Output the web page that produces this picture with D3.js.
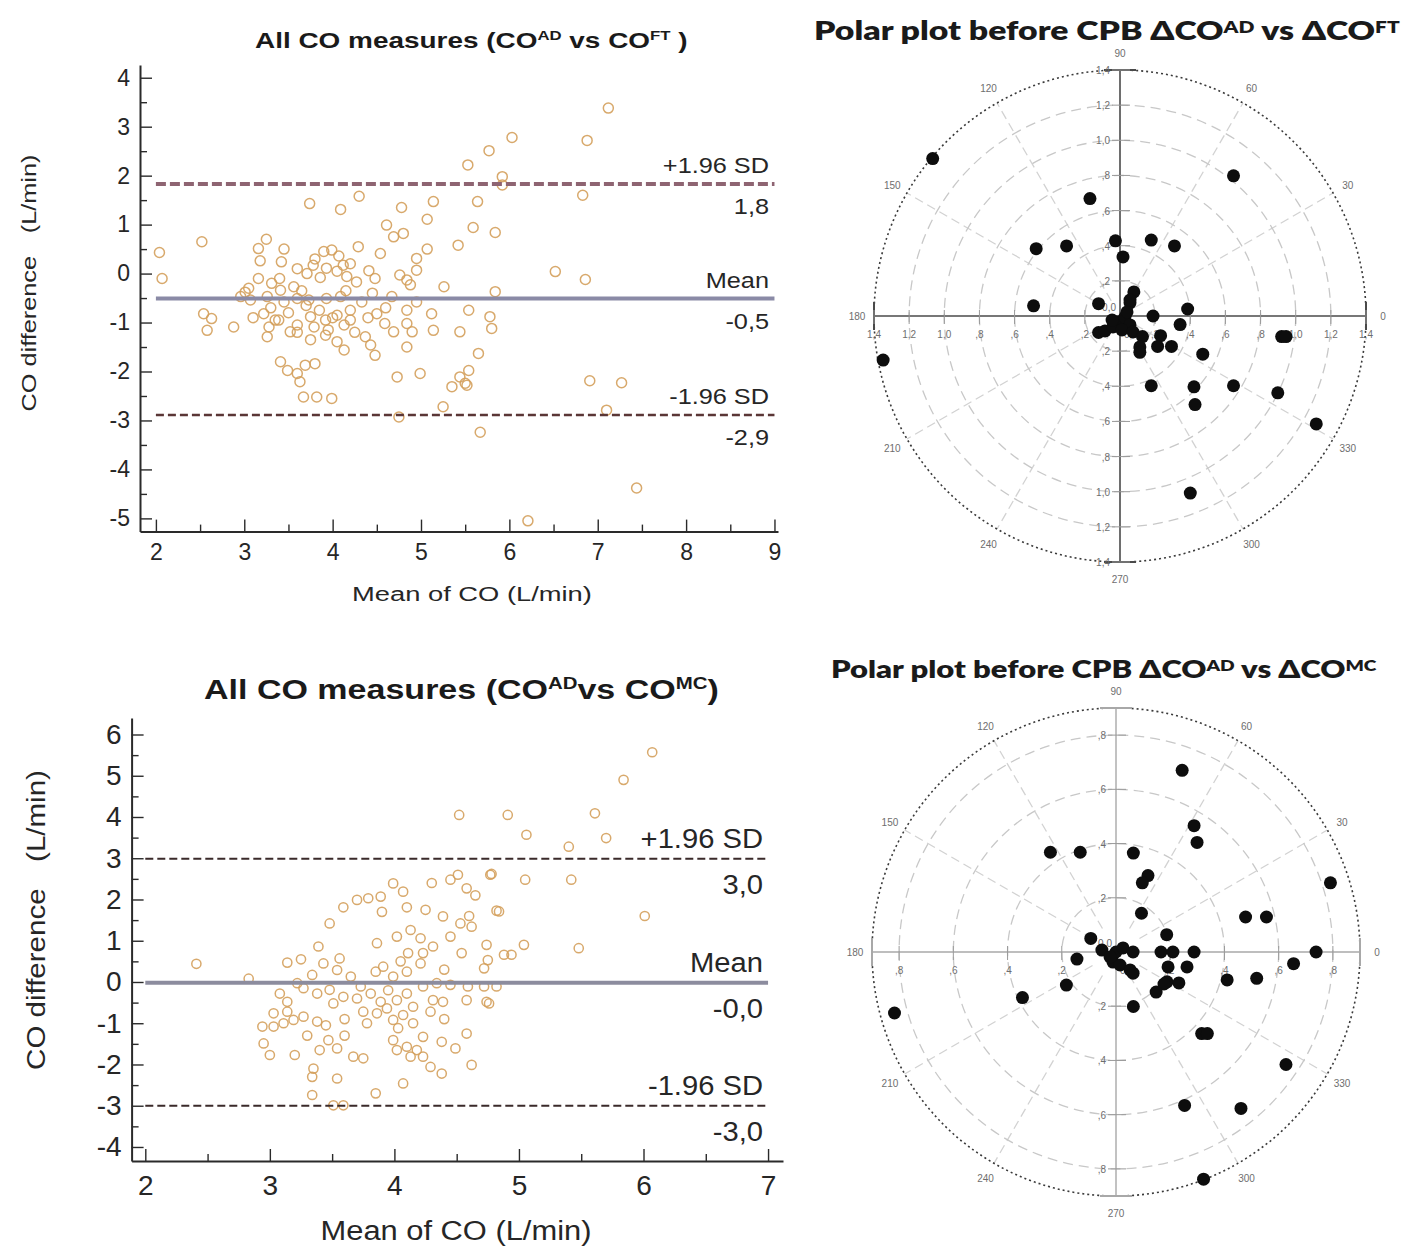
<!DOCTYPE html>
<html>
<head>
<meta charset="utf-8">
<script src="https://cdn.jsdelivr.net/npm/d3@7"></script>
<style>
  body { margin: 0; background: #fff; }
  svg text { font-family: "Liberation Sans", Arial, sans-serif; }
</style>
</head>
<body>
<svg id="chart" width="1402" height="1252"></svg>
<script>
// ---- Bland-Altman, CO-AD vs CO-FT (top left) ----
const ftMean = [5.53,3.74,4.09,4.30,4.78,5.14,5.07,5.59,2.52,2.04,2.07,3.25,3.16,3.45,3.18,3.42,3.16,4.29,3.99,4.07,
  4.61,4.69,4.80,4.54,5.07,4.95,5.42,3.78,3.93,4.12,3.71,3.86,4.16,4.27,4.41,4.48,4.76,4.84,4.95,4.88,
  3.31,3.41,3.56,3.07,2.96,3.26,3.45,3.60,3.73,3.93,4.09,4.33,4.67,4.95,5.26,5.54,2.54,2.63,2.58,2.88,
  3.22,3.28,3.26,3.39,3.52,3.60,3.75,3.79,3.92,3.92,4.05,4.13,4.20,4.05,4.13,4.37,4.43,4.48,4.50,4.59,
  4.69,4.84,4.84,4.90,4.84,5.12,5.14,5.44,5.65,3.41,3.49,3.60,3.69,3.80,3.63,3.67,3.82,3.99,4.73,4.99,
  5.35,5.50,5.54,5.44,5.25,4.75,7.12,6.88,6.03,5.77,5.92,5.92,6.83,5.64,5.84,6.52,6.86,5.84,5.78,5.80,
  5.52,6.91,7.27,7.10,5.67,7.44,6.21,3.01,
  3.30,3.50,3.70,3.85,4.00,4.20,3.60,3.95,4.25,3.40,3.60,3.80,4.05,4.20,3.35,3.75,4.40,4.60,3.10,3.05,
  3.90,4.15,3.65,4.45];
const ftDiff = [2.22,1.43,1.31,1.58,1.35,1.47,1.11,0.94,0.65,0.43,-0.10,0.70,0.51,0.50,0.26,0.24,-0.10,0.55,0.48,0.36,
  0.99,0.75,0.82,0.41,0.50,0.31,0.58,0.17,0.11,0.17,0.00,-0.08,-0.06,-0.17,0.06,-0.10,-0.03,-0.13,0.07,-0.23,
  -0.20,-0.34,-0.27,-0.54,-0.47,-0.47,-0.58,-0.51,-0.54,-0.51,-0.47,-0.58,-0.47,-0.58,-0.27,-0.75,-0.82,-0.92,-1.16,-1.09,
  -0.82,-1.09,-1.29,-0.95,-1.19,-1.05,-0.88,-1.09,-0.95,-1.26,-0.85,-1.05,-0.95,-1.39,-1.56,-1.29,-1.46,-1.67,-0.82,-1.02,
  -1.19,-0.75,-1.02,-1.19,-1.50,-0.82,-1.16,-1.19,-1.63,-1.80,-1.98,-2.04,-1.87,-1.84,-2.21,-2.52,-2.52,-2.55,-2.11,-2.04,
  -2.31,-2.24,-1.98,-2.11,-2.72,-2.93,3.38,2.72,2.78,2.51,1.98,1.81,1.60,1.47,0.84,0.04,-0.12,-0.37,-0.88,-1.12,
  -2.28,-2.19,-2.23,-2.79,-3.24,-4.38,-5.05,-0.38,
  -0.70,-0.80,-0.65,-0.75,-0.90,-0.75,-1.20,-1.15,-1.20,-0.10,0.10,0.30,0.05,0.20,-0.95,-1.35,-0.90,-0.70,-0.90,-0.30,
  0.45,-0.35,-0.35,-0.40];
const ftLimits = [1.83, -0.51, -2.89];
const ftLimitTop = ["+1.96 SD", "Mean", "-1.96 SD"];
const ftLimitBottom = ["1,8", "-0,5", "-2,9"];
const ftXTicks = [2, 3, 4, 5, 6, 7, 8, 9];
const ftYTicks = [-5, -4, -3, -2, -1, 0, 1, 2, 3, 4];

// ---- Bland-Altman, CO-AD vs CO-MC (bottom left) ----
const mcMean = [2.41,3.14,2.83,4.51,4.77,4.45,4.58,4.84,4.39,4.53,4.62,4.74,4.75,4.72,4.88,4.54,3.99,3.89,3.79,3.70,
  3.59,3.48,4.07,4.10,4.25,3.86,4.02,4.13,4.21,4.11,4.23,4.31,4.21,4.10,3.99,3.91,3.85,3.39,3.43,3.56,
  3.54,3.65,3.34,3.22,3.08,3.14,3.27,3.38,3.48,3.59,3.51,3.73,3.81,3.89,3.86,3.94,4.02,4.10,4.15,4.07,
  3.99,3.75,3.78,4.03,4.23,4.31,4.29,4.34,4.45,4.59,4.72,4.39,4.58,4.76,2.94,3.03,3.11,3.19,3.27,3.38,
  3.03,3.14,2.95,3.00,3.20,3.40,3.47,3.54,3.35,3.34,3.54,3.34,3.85,3.51,3.59,3.67,3.75,3.99,4.02,4.10,
  4.18,4.23,4.23,4.29,4.38,4.38,4.49,4.58,4.62,4.07,4.13,
  6.07,5.84,5.61,4.91,4.52,5.06,5.70,5.40,4.78,5.05,5.42,6.01,4.82,5.04,5.48,4.94,4.82,4.74,
  3.45,3.60,3.70,3.95,4.05,4.40,4.45,4.60,3.30,3.60,4.15,4.40,3.90,4.30,4.65,3.25];
const mcDiff = [0.44,0.47,0.08,2.60,2.60,2.48,2.27,1.71,1.59,1.42,1.34,0.90,0.53,0.33,0.66,0.70,2.39,2.07,2.03,1.99,
  1.81,1.42,2.19,1.81,1.75,0.94,1.10,1.26,1.06,0.70,0.70,0.86,0.45,0.25,0.13,0.37,0.25,0.86,0.45,0.57,
  0.29,0.13,0.17,-0.03,-0.28,-0.48,-0.15,-0.28,-0.19,-0.36,-0.52,-0.11,-0.28,-0.48,-0.76,-0.64,-0.44,-0.28,-0.60,-0.80,
  -0.92,-0.72,-1.00,-1.12,-0.11,-0.44,-0.72,-0.03,-0.07,-0.11,-0.11,-0.48,-0.44,-0.52,-1.08,-1.08,-1.00,-0.92,-0.84,-0.96,
  -0.76,-0.72,-1.49,-1.77,-1.77,-1.65,-1.41,-1.61,-2.10,-2.30,-2.34,-2.74,-2.70,-2.99,-2.99,-1.81,-1.85,-1.41,-1.65,-1.57,
  -1.65,-1.33,-1.81,-2.06,-2.22,-1.45,-1.61,-1.25,-2.01,-2.46,-1.81,
  5.57,4.90,4.09,4.05,4.05,3.57,3.49,3.28,2.62,2.48,2.48,1.60,1.73,0.90,0.82,0.66,-0.11,-0.48,
  -1.05,-0.90,-0.40,-0.20,0.50,0.30,1.10,1.60,-1.30,-1.30,-1.00,-0.90,1.70,2.40,2.10,0.55];
const mcLimits = [2.99, -0.02, -3.0];
const mcLimitTop = ["+1.96 SD", "Mean", "-1.96 SD"];
const mcLimitBottom = ["3,0", "-0,0", "-3,0"];
const mcXTicks = [2, 3, 4, 5, 6, 7];
const mcYTicks = [-4, -3, -2, -1, 0, 1, 2, 3, 4, 5, 6];

// ---- polar plot, dCO-AD vs dCO-FT (top right) ----
const ftPolarX = [-1.066,0.646,-0.171,-0.477,-0.304,-0.026,0.017,0.178,0.310,-0.492,-0.122,0.079,0.057,0.385,0.188,0.342,
  -0.122,-0.085,-0.010,0.028,0.057,-0.040,0.011,0.074,0.040,0.057,-0.045,0.128,0.113,0.113,0.231,0.214,
  0.293,0.471,0.920,0.945,-1.348,0.178,0.421,0.646,0.898,0.427,1.117,0.400];
const ftPolarY = [0.896,0.798,0.668,0.383,0.399,0.428,0.336,0.432,0.399,0.058,0.070,0.137,0.075,0.040,0.000,-0.049,
  -0.094,-0.085,-0.034,-0.006,-0.051,-0.062,-0.079,-0.091,0.023,0.091,-0.023,-0.117,-0.176,-0.207,-0.112,-0.173,
  -0.173,-0.217,-0.117,-0.117,-0.251,-0.397,-0.403,-0.397,-0.437,-0.504,-0.614,-1.008];
const ftRings = [0.2, 0.4, 0.6, 0.8, 1.0, 1.2];
const ftRingLabels = [",2", ",4", ",6", ",8", "1,0", "1,2", "1,4"];

// ---- polar plot, dCO-AD vs dCO-MC (bottom right) ----
const mcPolarX = [0.244,0.288,0.299,-0.242,-0.132,0.064,0.118,0.097,0.094,0.791,0.478,0.555,-0.093,0.187,0.738,0.655,
  -0.144,-0.052,0.000,0.026,0.063,-0.011,0.015,0.052,0.063,-0.022,0.166,0.210,0.288,0.192,0.262,0.188,
  0.232,0.177,0.148,0.410,0.519,-0.183,-0.345,-0.817,0.064,0.316,0.337,0.627,0.253,0.461,0.323];
const mcPolarY = [0.670,0.466,0.404,0.368,0.368,0.365,0.282,0.255,0.143,0.255,0.129,0.129,0.050,0.064,0.000,-0.043,
  -0.026,0.007,0.000,0.015,0.000,-0.037,-0.048,-0.066,-0.078,-0.018,0.000,0.000,0.000,-0.055,-0.055,-0.110,
  -0.114,-0.118,-0.148,-0.103,-0.097,-0.122,-0.168,-0.225,-0.201,-0.301,-0.301,-0.415,-0.566,-0.577,-0.838];
const mcRings = [0.2, 0.4, 0.6, 0.8];
const mcRingLabels = [",2", ",4", ",6", ",8"];

const angles = [0, 30, 60, 90, 120, 150, 180, 210, 240, 270, 300, 330];

const svg = d3.select("#chart");

// squeeze/stretch a text horizontally around its anchor point
function stretch(sel, s) {
  sel.each(function() {
    const t = d3.select(this), x = +t.attr("x"), y = +t.attr("y");
    t.attr("transform", `translate(${x},${y}) scale(${s},1) translate(${-x},${-y})`);
  });
}
function fitWidth(sel, w) {
  const bw = sel.node().getBBox().width;
  stretch(sel, w / bw);
}

// text with superscript parts: parts = [[str, isSup], ...]
function supText(g, x, y, parts, size, weight, family, supScale, supRise) {
  const t = g.append("text").attr("x", x).attr("y", y)
    .attr("font-size", size).attr("font-weight", weight).attr("fill", "#1a1a1a");
  if (family) t.style("font-family", family);
  let up = false;
  parts.forEach(p => {
    const s = t.append("tspan").text(p[0]);
    if (p[1]) {
      s.attr("font-size", size * supScale).attr("dy", -supRise);
      up = true;
    } else if (up) {
      s.attr("dy", supRise);
      up = false;
    }
  });
  return t;
}

function drawBA(o) {
  const g = svg.append("g");
  const x = d3.scaleLinear().domain(o.xDomain).range(o.xRange);
  const y = d3.scaleLinear().domain(o.yDomain).range(o.yRange);
  const base = o.yRange[0], left = o.xRange[0];

  const xMinor = d3.range(o.xTicks[0] + 0.5, o.xTicks[o.xTicks.length - 1], 1);
  const yMinor = d3.range(o.yTicks[0] + 0.5, o.yTicks[o.yTicks.length - 1], 1);

  g.append("g").attr("transform", `translate(0,${base})`)
    .call(d3.axisBottom(x).tickValues(xMinor).tickSize(-7).tickFormat(""))
    .call(a => a.select(".domain").remove());
  g.append("g").attr("transform", `translate(${left},0)`)
    .call(d3.axisLeft(y).tickValues(yMinor).tickSize(-7).tickFormat(""))
    .call(a => a.select(".domain").remove());

  const xa = g.append("g").attr("transform", `translate(0,${base})`)
    .call(d3.axisBottom(x).tickValues(o.xTicks).tickSizeInner(-12).tickSizeOuter(0)
      .tickPadding(o.xPad).tickFormat(d => String(d)));
  const ya = g.append("g").attr("transform", `translate(${left},0)`)
    .call(d3.axisLeft(y).tickValues(o.yTicks).tickSizeInner(-12).tickSizeOuter(0)
      .tickPadding(o.yPad).tickFormat(d => String(d)));
  [xa, ya].forEach(a => {
    a.select(".domain").attr("stroke", "#2a2a2a").attr("stroke-width", 2);
    a.selectAll(".tick text").attr("font-size", o.tickSize).attr("fill", "#262626")
      .style("font-family", "'Liberation Sans', Arial, sans-serif");
  });
  g.selectAll(".tick line").attr("stroke", "#2a2a2a").attr("stroke-width", 1.4);

  // points
  g.append("g").selectAll("circle").data(o.mean).join("circle")
    .attr("cx", (d, i) => x(d)).attr("cy", (d, i) => y(o.diff[i]))
    .attr("r", o.r).attr("fill", "none").attr("stroke", o.pointColor).attr("stroke-width", 1.5)
    .attr("stroke-opacity", 0.9);

  // limit lines
  g.append("g").selectAll("line").data(o.limits).join("line")
    .attr("x1", x(o.lineFrom)).attr("x2", x(o.lineTo))
    .attr("y1", d => y(d)).attr("y2", d => y(d))
    .attr("stroke", (d, i) => o.lineColors[i])
    .attr("stroke-width", (d, i) => o.lineWidths[i])
    .attr("stroke-dasharray", (d, i) => o.lineDash[i]);

  // limit labels
  const lab = g.append("g").attr("font-size", o.labelSize).attr("fill", "#262626").attr("text-anchor", "end");
  lab.selectAll(".top").data(o.limits).join("text").attr("class", "top")
    .attr("x", o.labelX).attr("y", d => y(d) - o.aboveGap).text((d, i) => o.topLabels[i]);
  lab.selectAll(".bot").data(o.limits).join("text").attr("class", "bot")
    .attr("x", o.labelX).attr("y", d => y(d) + o.belowGap).text((d, i) => o.bottomLabels[i]);
  stretch(lab.selectAll("text"), o.labelStretch);

  // titles
  const tt = supText(g, o.title.x, o.title.y, o.title.parts, o.title.size, "bold", null, 0.6, o.title.size * 0.38);
  fitWidth(tt, o.title.w);

  const xt = g.append("text").attr("x", o.xTitle.x).attr("y", o.xTitle.y).attr("text-anchor", "middle")
    .attr("font-size", o.xTitle.size).attr("fill", "#262626").text("Mean of CO (L/min)");
  fitWidth(xt, o.xTitle.w);

  const yg = g.append("g").attr("transform", `translate(${o.yTitle.x},${o.yTitle.y}) rotate(-90)`);
  const yt = yg.append("text").attr("x", 0).attr("y", 0).attr("text-anchor", "middle")
    .attr("font-size", o.yTitle.size).attr("fill", "#262626");
  yt.append("tspan").text("CO difference");
  yt.append("tspan").attr("dx", o.yTitle.size * 0.9).text("(L/min)");
  fitWidth(yt, o.yTitle.w);
}

function drawPolar(o) {
  const g = svg.append("g");
  const rad = d3.scaleLinear().domain([0, o.max]).range([0, o.R]);
  const px = d3.scaleLinear().domain([-o.max, o.max]).range([o.cx - o.R, o.cx + o.R]);
  const py = d3.scaleLinear().domain([-o.max, o.max]).range([o.cy + o.R, o.cy - o.R]);
  const toRad = a => a * Math.PI / 180;

  // spokes
  g.append("g").selectAll("line").data(angles.filter(a => a % 90 !== 0)).join("line")
    .attr("x1", a => o.cx + rad(o.rings[0] * 0.5) * Math.cos(toRad(a)))
    .attr("y1", a => o.cy - rad(o.rings[0] * 0.5) * Math.sin(toRad(a)))
    .attr("x2", a => o.cx + rad(o.max) * Math.cos(toRad(a)))
    .attr("y2", a => o.cy - rad(o.max) * Math.sin(toRad(a)))
    .attr("stroke", "#d2d2d2").attr("stroke-width", 1.3).attr("stroke-dasharray", "9,5");

  // rings
  g.append("g").selectAll("circle").data(o.rings).join("circle")
    .attr("cx", o.cx).attr("cy", o.cy).attr("r", d => rad(d))
    .attr("fill", "none").attr("stroke", "#c8c8c8").attr("stroke-width", 1.3).attr("stroke-dasharray", "10,6");

  g.append("circle").attr("cx", o.cx).attr("cy", o.cy).attr("r", rad(o.max))
    .attr("fill", "none").attr("stroke", "#3a3a3a").attr("stroke-width", 1.6).attr("stroke-dasharray", "2,3");

  // axes
  g.append("line").attr("x1", px(-o.max)).attr("x2", px(o.max)).attr("y1", py(0)).attr("y2", py(0))
    .attr("stroke", o.axisColor).attr("stroke-width", o.axisWidth);
  g.append("line").attr("x1", px(0)).attr("x2", px(0)).attr("y1", py(o.max)).attr("y2", py(-o.max))
    .attr("stroke", o.axisColor).attr("stroke-width", o.axisWidth);
  // end bars
  [-o.max, o.max].forEach(v => {
    g.append("line").attr("x1", px(v)).attr("x2", px(v)).attr("y1", py(0) - 14).attr("y2", py(0) + 14)
      .attr("stroke", o.axisColor).attr("stroke-width", 2);
    g.append("line").attr("x1", px(0) - 16).attr("x2", px(0) + 16).attr("y1", py(v)).attr("y2", py(v))
      .attr("stroke", o.axisColor).attr("stroke-width", 2);
  });

  const allR = o.rings.concat(o.labelMax ? [o.max] : []);
  const signed = allR.flatMap((v, i) => [{ v: v, l: o.ringLabels[i] }, { v: -v, l: o.ringLabels[i] }]);

  // axis ticks
  g.append("g").selectAll("line").data(signed).join("line")
    .attr("x1", px(0) - 8).attr("x2", px(0) + 10).attr("y1", d => py(d.v)).attr("y2", d => py(d.v))
    .attr("stroke", "#9a9a9a").attr("stroke-width", 1);
  g.append("g").selectAll("line").data(signed).join("line")
    .attr("x1", d => px(d.v)).attr("x2", d => px(d.v)).attr("y1", py(0) - 6).attr("y2", py(0) + 8)
    .attr("stroke", "#9a9a9a").attr("stroke-width", 1);

  const small = g.append("g").attr("font-size", o.smallSize).attr("fill", "#6e6e6e");
  small.selectAll(".vl").data(signed).join("text").attr("class", "vl")
    .attr("x", px(0) - 10).attr("y", d => py(d.v) + 4).attr("text-anchor", "end").text(d => d.l);
  small.selectAll(".hl").data(signed).join("text").attr("class", "hl")
    .attr("x", d => px(d.v)).attr("y", py(0) + 22).attr("text-anchor", "middle").text(d => d.l);
  small.append("text").attr("x", px(0) - 4).attr("y", py(0) - 5).attr("text-anchor", "end").text("0,0");
  small.append("text").attr("x", px(0) + 4).attr("y", py(0) + 22).attr("text-anchor", "start").text("0,0");

  // angle labels
  g.append("g").attr("font-size", o.smallSize).attr("fill", "#6e6e6e").attr("text-anchor", "middle")
    .selectAll("text").data(angles).join("text")
    .attr("x", a => o.cx + (o.R + o.angleGap) * Math.cos(toRad(a)))
    .attr("y", a => o.cy - (o.R + o.angleGap) * Math.sin(toRad(a)) + 4)
    .text(a => String(a));

  // points
  g.append("g").selectAll("circle").data(o.xs).join("circle")
    .attr("cx", d => px(d)).attr("cy", (d, i) => py(o.ys[i]))
    .attr("r", 6.5).attr("fill", "#0d0d0d");

  // title
  const t = supText(g, o.title.x, o.title.y, o.title.parts, o.title.size, 800,
    "Lato, 'Open Sans', sans-serif", 0.62, o.title.size * 0.27);
  fitWidth(t, o.title.w);
}

drawBA({
  xDomain: [1.82, 9.04], xRange: [140, 778], yDomain: [-5.27, 4.26], yRange: [531.6, 65],
  xTicks: ftXTicks, yTicks: ftYTicks, xPad: 12, yPad: 10, tickSize: 23,
  mean: ftMean, diff: ftDiff, r: 5, pointColor: "#d4a05c",
  limits: ftLimits, lineFrom: 2, lineTo: 9,
  lineColors: ["#8e6472", "#8a8aa6", "#5a3636"], lineWidths: [4, 4, 2.4], lineDash: ["10,4", null, "8,4"],
  topLabels: ftLimitTop, bottomLabels: ftLimitBottom, labelX: 769, labelSize: 22, labelStretch: 1.15,
  aboveGap: 11, belowGap: 30,
  title: { x: 255, y: 48, size: 22, w: 433,
    parts: [["All CO measures (CO", 0], ["AD", 1], [" vs CO", 0], ["FT", 1], [" )", 0]] },
  xTitle: { x: 472, y: 601, size: 21, w: 240 },
  yTitle: { x: 36, y: 283, size: 21, w: 257 }
});

drawBA({
  xDomain: [1.89, 7.12], xRange: [131.6, 783], yDomain: [-4.34, 6.4], yRange: [1161, 718],
  xTicks: mcXTicks, yTicks: mcYTicks, xPad: 14, yPad: 10, tickSize: 28,
  mean: mcMean, diff: mcDiff, r: 4.6, pointColor: "#d4a05c",
  limits: mcLimits, lineFrom: 2, lineTo: 7,
  lineColors: ["#3a2a2a", "#8c8c9e", "#3a2a2a"], lineWidths: [2, 4, 2], lineDash: ["8,4", null, "8,4"],
  topLabels: mcLimitTop, bottomLabels: mcLimitBottom, labelX: 763, labelSize: 27, labelStretch: 1.08,
  aboveGap: 11, belowGap: 35,
  title: { x: 204, y: 699, size: 27, w: 515,
    parts: [["All CO measures (CO", 0], ["AD", 1], ["vs CO", 0], ["MC", 1], [")", 0]] },
  xTitle: { x: 456, y: 1240, size: 28, w: 271 },
  yTitle: { x: 45, y: 920, size: 26, w: 300 }
});

drawPolar({
  cx: 1120, cy: 316, R: 246, max: 1.4, rings: ftRings, ringLabels: ftRingLabels, labelMax: true,
  xs: ftPolarX, ys: ftPolarY, axisColor: "#4a4a4a", axisWidth: 1.6, smallSize: 10, angleGap: 17,
  title: { x: 814, y: 40, size: 27, w: 586,
    parts: [["Polar plot before CPB \u0394CO", 0], ["AD", 1], [" vs \u0394CO", 0], ["FT", 1]] }
});

drawPolar({
  cx: 1116, cy: 952, R: 244, max: 0.9, rings: mcRings, ringLabels: mcRingLabels, labelMax: false,
  xs: mcPolarX, ys: mcPolarY, axisColor: "#a8a8a8", axisWidth: 1.4, smallSize: 10, angleGap: 17,
  title: { x: 831, y: 678, size: 25, w: 547,
    parts: [["Polar plot before CPB \u0394CO", 0], ["AD", 1], [" vs \u0394CO", 0], ["MC", 1]] }
});
</script>
</body>
</html>
